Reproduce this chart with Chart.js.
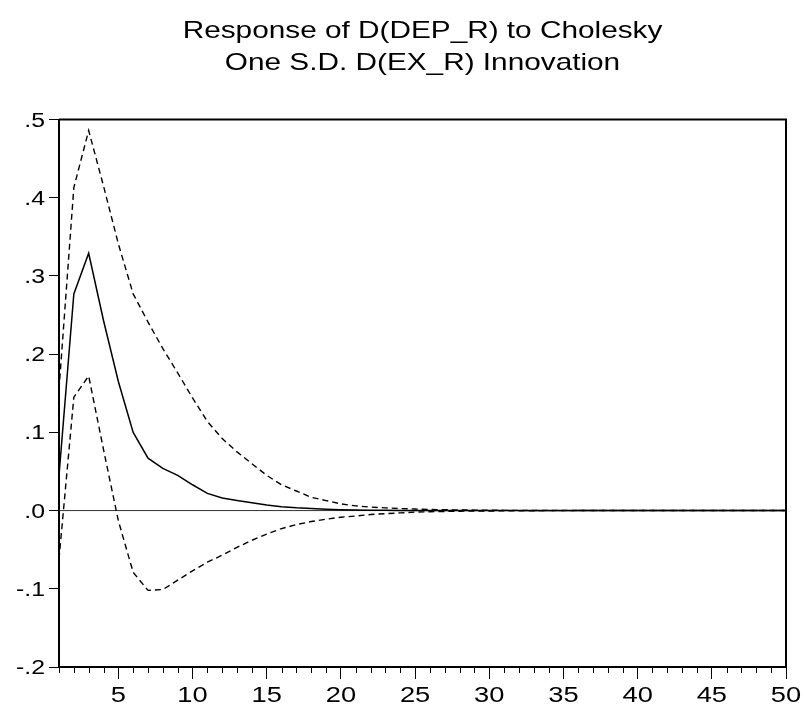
<!DOCTYPE html>
<html>
<head>
<meta charset="utf-8">
<script src="https://cdn.jsdelivr.net/npm/chart.js@4"></script>
<style>
  body { margin: 0; background: #fff; }
  #wrap { width: 804px; height: 704px; }
</style>
</head>
<body>
<div id="wrap"><canvas id="irfChart" width="804" height="704"></canvas></div>
<script>
// Perioden
const periods = [1, 2, 3, 4, 5, 6, 7, 8, 9, 10, 11, 12, 13, 14, 15, 16, 17, 18, 19, 20,
    21, 22, 23, 24, 25, 26, 27, 28, 29, 30, 31, 32, 33, 34, 35, 36, 37, 38, 39, 40,
    41, 42, 43, 44, 45, 46, 47, 48, 49, 50];

// Impulsantwort (Mitte) und Bänder +/- 2 S.E.
const response = [0.045, 0.277, 0.329, 0.243, 0.165, 0.100, 0.067, 0.054, 0.045, 0.033,
    0.022, 0.016, 0.013, 0.010, 0.007, 0.005, 0.0035, 0.0025, 0.0018, 0.0012,
    0.0008, 0.0005, 0.0003, 0.0002, 0.0001, 0.0001, 0, 0, 0, 0,
    0, 0, 0, 0, 0, 0, 0, 0, 0, 0,
    0, 0, 0, 0, 0, 0, 0, 0, 0, 0];
const upperBand = [0.155, 0.413, 0.486, 0.415, 0.341, 0.277, 0.241, 0.207, 0.176, 0.144,
    0.114, 0.092, 0.075, 0.060, 0.045, 0.033, 0.025, 0.017, 0.0128, 0.0085,
    0.006, 0.0045, 0.0035, 0.0025, 0.002, 0.0015, 0.001, 0.0008, 0.0006, 0.0004,
    0.0003, 0.0002, 0.00015, 0.0001, 0.0001, 0, 0, 0, 0, 0,
    0, 0, 0, 0, 0, 0, 0, 0, 0, 0];
const lowerBand = [-0.062, 0.145, 0.172, 0.078, -0.013, -0.079, -0.102, -0.101, -0.089, -0.077,
    -0.066, -0.057, -0.047, -0.038, -0.030, -0.023, -0.018, -0.014, -0.011, -0.0085,
    -0.007, -0.005, -0.004, -0.003, -0.002, -0.0015, -0.0011, -0.0008, -0.0006, -0.0005,
    -0.0004, -0.0003, -0.0002, -0.0001, -0.0001, 0, 0, 0, 0, 0,
    0, 0, 0, 0, 0, 0, 0, 0, 0, 0];

// Achsenbeschriftungen
const xTickValues = [5, 10, 15, 20, 25, 30, 35, 40, 45, 50];
const yTickValues = [-0.2, -0.1, 0, 0.1, 0.2, 0.3, 0.4, 0.5];
const yTickLabels = ["-.2", "-.1", ".0", ".1", ".2", ".3", ".4", ".5"];

const titleLines = ["Response of D(DEP_R) to Cholesky", "One S.D. D(EX_R) Innovation"];

const FONT = "'Liberation Sans', Arial, sans-serif";
const STRETCH = 1.24; // Schrift im Original ist horizontal gestreckt

function toPoints(values) {
    return values.map((v, i) => ({ x: periods[i], y: v }));
}

function wideText(ctx, text, x, y, align) {
    ctx.save();
    ctx.translate(x, y);
    ctx.scale(STRETCH, 1);
    ctx.textAlign = align;
    ctx.fillText(text, 0, 0);
    ctx.restore();
}

// Rahmen oben/rechts, Nulllinie, kleine Striche und Texte
const framePlugin = {
    id: "frame",
    beforeDatasetsDraw(chart) {
        const { ctx, chartArea: a, scales } = chart;
        const y0 = scales.y.getPixelForValue(0);
        ctx.save();
        ctx.strokeStyle = "#333";
        ctx.lineWidth = 1;
        ctx.beginPath();
        ctx.moveTo(a.left, y0);
        ctx.lineTo(a.right, y0);
        ctx.stroke();
        ctx.restore();
    },
    afterDraw(chart) {
        const { ctx, chartArea: a, scales } = chart;
        ctx.save();
        ctx.strokeStyle = "#000";
        ctx.lineWidth = 2;
        ctx.beginPath();
        ctx.moveTo(a.left, a.top);
        ctx.lineTo(a.right, a.top);
        ctx.lineTo(a.right, a.bottom);
        ctx.stroke();

        ctx.lineWidth = 1;
        ctx.beginPath();
        periods.forEach(p => {
            if (xTickValues.includes(p)) return;
            const px = Math.round(scales.x.getPixelForValue(p)) + 0.5;
            ctx.moveTo(px, a.bottom);
            ctx.lineTo(px, a.bottom + 6);
        });
        ctx.stroke();

        // Texte
        ctx.fillStyle = "#000";
        ctx.textBaseline = "alphabetic";
        const cx = (a.left + a.right) / 2;
        ctx.font = "24px " + FONT;
        wideText(ctx, titleLines[0], cx, 38, "center");
        wideText(ctx, titleLines[1], cx, 70, "center");

        ctx.font = "22px " + FONT;
        xTickValues.forEach(v => {
            wideText(ctx, String(v), scales.x.getPixelForValue(v), a.bottom + 35, "center");
        });

        ctx.font = "20px " + FONT;
        yTickValues.forEach((v, i) => {
            wideText(ctx, yTickLabels[i], a.left - 14, scales.y.getPixelForValue(v) + 7, "right");
        });
        ctx.restore();
    }
};

const lineBase = { borderColor: "#000", pointRadius: 0, tension: 0, fill: false };

const ctx = document.getElementById("irfChart").getContext("2d");
const irfChart = new Chart(ctx, {
    type: "line",
    data: {
        datasets: [
            Object.assign({ label: "Response", data: toPoints(response), borderWidth: 1.5 }, lineBase),
            Object.assign({ label: "+2 S.E.", data: toPoints(upperBand), borderWidth: 1.4, borderDash: [6, 4] }, lineBase),
            Object.assign({ label: "-2 S.E.", data: toPoints(lowerBand), borderWidth: 1.4, borderDash: [6, 4] }, lineBase)
        ]
    },
    options: {
        responsive: false,
        animation: false,
        layout: { padding: { right: 18, left: 0, top: 119.5, bottom: 0 } },
        plugins: {
            legend: { display: false },
            tooltip: { enabled: false },
            title: { display: false }
        },
        scales: {
            x: {
                type: "linear",
                min: 1,
                max: 50,
                afterBuildTicks: scale => { scale.ticks = xTickValues.map(v => ({ value: v })); },
                afterFit: scale => { scale.height = 37; },
                ticks: { display: false },
                grid: { drawOnChartArea: false, tickLength: 12, tickColor: "#000", tickWidth: 1 },
                border: { display: true, color: "#000", width: 2 }
            },
            y: {
                type: "linear",
                min: -0.2,
                max: 0.5,
                afterBuildTicks: scale => { scale.ticks = yTickValues.map(v => ({ value: v })); },
                afterFit: scale => { scale.width = 59; },
                ticks: { display: false },
                grid: { drawOnChartArea: false, tickLength: 10, tickColor: "#000", tickWidth: 1 },
                border: { display: true, color: "#000", width: 2 }
            }
        }
    },
    plugins: [framePlugin]
});
</script>
</body>
</html>
